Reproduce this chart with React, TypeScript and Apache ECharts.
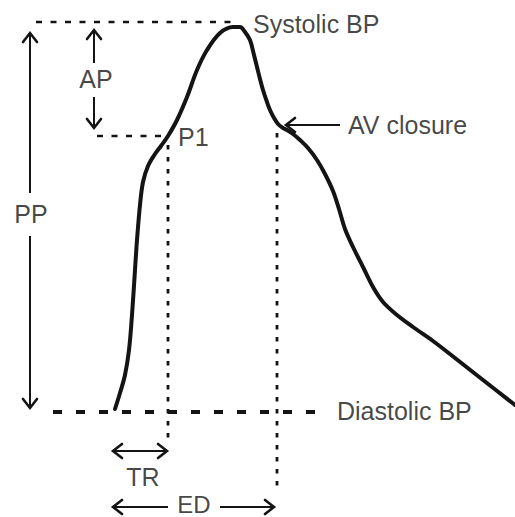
import React, { useEffect, useRef } from "react";
import * as echarts from "echarts";

// Pressure waveform trace: [time, level] (level axis runs downward)
const waveTime = [115, 120, 125, 129, 132, 135, 137, 140, 143, 148, 155, 161, 168, 177, 187, 197, 207, 220, 233, 240, 245, 250, 254, 257, 260, 263, 267, 270, 274, 278, 283, 287, 293, 300, 308, 317, 325, 333, 339, 345, 353, 363, 373, 383, 397, 413, 433, 455, 483, 515];
const waveLevel = [409, 393, 375, 350, 315, 270, 240, 205, 182, 166, 154, 146, 136, 120, 97, 70, 50, 33, 27, 27, 32, 40, 55, 67, 79, 90, 102, 110, 118, 124, 128, 130, 134, 140, 148, 160, 174, 191, 209, 229, 247, 267, 287, 302, 315, 327, 341, 358, 380, 405];

// Reference lines: [x1, y1, x2, y2]
const systolicLine = [36, 22, 236, 22];
const p1Line = [97, 136, 166, 136];
const diastolicLine = [53, 412, 322, 412];
const trVertical = [168, 145, 168, 442];
const edVertical = [277, 133, 277, 490];

// Arrows: [fromX, fromY, toX, toY, headAtStart, headAtEnd]
const arrows: [number, number, number, number, boolean, boolean][] = [
  [30, 193, 30, 33, false, true],
  [30, 236, 30, 408, false, true],
  [94, 63, 94, 30, false, true],
  [94, 97, 94, 128, false, true],
  [113, 451, 167, 451, true, true],
  [168, 507, 113, 507, false, true],
  [220, 507, 274, 507, false, true],
  [340, 125, 286, 125, false, true],
];

// Labels: [text, x, y, anchor]
const labels: [string, number, number, string][] = [
  ["Systolic BP", 253, 24, "left"],
  ["AV closure", 348, 125, "left"],
  ["Diastolic BP", 337, 411, "left"],
  ["P1", 178, 137, "left"],
  ["AP", 96, 79, "center"],
  ["PP", 31, 214, "center"],
  ["TR", 143, 477, "center"],
  ["ED", 194, 504, "center"],
];

const INK = "#141414";
const TEXT = "#151515";
const FONT = "'Liberation Sans', Arial, sans-serif";

function seg(l: number[], width: number, dash: number[] | string) {
  return {
    type: "line",
    data: [[l[0], l[1]], [l[2], l[3]]],
    symbol: "none",
    silent: true,
    lineStyle: { color: INK, width, type: dash, cap: "butt" },
  };
}

function chevron(tx: number, ty: number, ux: number, uy: number) {
  const L = 9;
  const W = 7;
  const nx = -uy;
  const ny = ux;
  return {
    type: "line",
    data: [
      [tx - L * ux + W * nx, ty - L * uy + W * ny],
      [tx, ty],
      [tx - L * ux - W * nx, ty - L * uy - W * ny],
    ],
    symbol: "none",
    silent: true,
    lineStyle: { color: INK, width: 2.6, cap: "round", join: "miter" },
  };
}

export default function App() {
  const ref = useRef<HTMLDivElement>(null);
  useEffect(() => {
    if (!ref.current) return;
    const chart = echarts.init(ref.current, null, { renderer: "svg" });
    const series: any[] = [];

    series.push(seg(systolicLine, 2.6, [6, 8.5]));
    series.push(seg(p1Line, 2.6, [6, 8.5]));
    series.push(seg(diastolicLine, 4.2, [9, 14]));
    series.push(seg(trVertical, 2.8, [4.5, 7.5]));
    series.push(seg(edVertical, 2.8, [4.5, 7.5]));

    arrows.forEach(([x1, y1, x2, y2, hs, he]) => {
      series.push(seg([x1, y1, x2, y2], 2, "solid"));
      const len = Math.hypot(x2 - x1, y2 - y1);
      const ux = (x2 - x1) / len;
      const uy = (y2 - y1) / len;
      if (he) series.push(chevron(x2, y2, ux, uy));
      if (hs) series.push(chevron(x1, y1, -ux, -uy));
    });

    series.push({
      type: "line",
      data: waveTime.map((t, i) => [t, waveLevel[i]]),
      symbol: "none",
      smooth: 0.35,
      silent: true,
      lineStyle: { color: INK, width: 4, cap: "round", join: "round" },
      z: 5,
    });

    series.push({
      type: "scatter",
      symbolSize: 0,
      silent: true,
      data: labels.map(([text, x, y, anchor]) => ({
        value: [x, y],
        label: {
          show: true,
          formatter: text,
          position: anchor === "left" ? "right" : "inside",
          distance: 0,
          fontSize: text === "ED" ? 24 : 25,
          lineHeight: 20,
          fontFamily: FONT,
          color: TEXT,
        },
      })),
      z: 6,
    });

    chart.setOption({
      animation: false,
      backgroundColor: "#ffffff",
      grid: { left: 0, right: 0, top: 0, bottom: 0 },
      xAxis: { type: "value", min: 0, max: 515, show: false },
      yAxis: { type: "value", min: 0, max: 517, inverse: true, show: false },
      series,
    });
    return () => chart.dispose();
  }, []);
  return (
    <div
      ref={ref}
      style={{ position: "fixed", left: 0, top: 0, width: 515, height: 517 }}
    />
  );
}
